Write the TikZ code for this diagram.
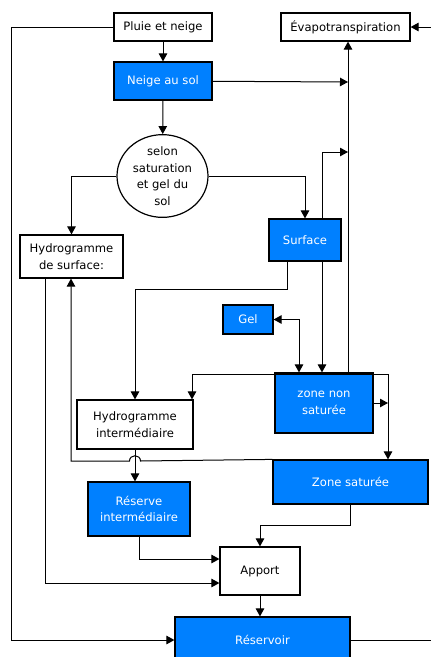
\documentclass[tikz,border=0pt]{standalone}
\usepackage{fontspec}
\setmainfont{DejaVu Sans}
\usetikzlibrary{shapes,arrows.meta}
\definecolor{eaubleu}{RGB}{0,128,255}

\begin{document}
\begin{tikzpicture}[x=1pt,y=-1pt,>={Triangle[length=8pt,width=8.5pt]}]
\tikzstyle{every node}=[draw, line width=1.2pt, inner sep=0pt, align=center, font=\fontsize{11.6}{16.5}\selectfont];
\tikzstyle{bleu}=[fill=eaubleu, text=white];
\tikzstyle{fleche}=[->, line width=1pt];

\useasboundingbox (0,0) rectangle (431,657);

  \node (pluie) at (163,27) [minimum width=98pt, minimum height=28pt] {Pluie et neige};
  \node (evap) at (345.5,27) [minimum width=129pt, minimum height=28pt] {Évapotranspiration};
  \node (neige) at (163,81) [bleu, minimum width=98pt, minimum height=38pt] {Neige au sol};
  \node (selon) at (162.5,176) [ellipse, minimum width=91pt, minimum height=76pt] {selon\\saturation\\et gel du\\sol};
  \node (hsurf) at (71.5,256.5) [minimum width=103pt, minimum height=43pt] {Hydrogramme\\de surface:};
  \node (surface) at (305,240) [bleu, minimum width=72pt, minimum height=42pt] {Surface};
  \node (gel) at (248,319.5) [bleu, minimum width=50pt, minimum height=29pt] {Gel};
  \node (zns) at (324,403) [bleu, minimum width=98pt, minimum height=60pt] {zone non\\saturée};
  \node (hinter) at (135,424.5) [minimum width=116pt, minimum height=49pt] {Hydrogramme\\intermédiaire};
  \node (zsat) at (350.5,482) [bleu, minimum width=155pt, minimum height=44pt] {Zone saturée};
  \node (rinter) at (139,509) [bleu, minimum width=102pt, minimum height=54pt] {Réserve\\intermédiaire};
  \node (apport) at (260,571) [minimum width=80pt, minimum height=48pt] {Apport};
  \node (reservoir) at (262.5,640) [bleu, minimum width=175pt, minimum height=46pt] {Réservoir};

  \coordinate (jevap) at (348,82);
  \coordinate (jsurf) at (322,152);
  \coordinate (jinter) at (287,289);
  \coordinate (jgel) at (299,319.5);
  \coordinate (jdroite) at (388,403);
  \coordinate (jhaut) at (388,374);
  \coordinate (jgauche) at (192,374);
  \coordinate (jsat) at (71,461);
  \coordinate (japp1) at (350.5,525);
  \coordinate (japp2) at (139,559);
  \coordinate (japp3) at (45,583);
  \coordinate (jpluie) at (11,27);
  \coordinate (entree) at (431,27);
  \coordinate (sortie) at (431,640);

  \foreach \from/\to in {pluie/neige, neige/selon}
\draw [fleche] (\from) -- (\to);

  \draw [fleche] (neige) -- (jevap);
  \draw [fleche] (zns.north -| jevap) -- (evap.south -| jevap);
  \draw [fleche] (entree) -- (evap.east);
  \draw [fleche] (surface.north -| jsurf) -- (jsurf) -- (jsurf -| jevap);
  \draw [fleche] (selon.east) -| (surface.north);
  \draw [fleche] (selon.west) -| (hsurf.north);
  \draw [fleche] (surface.south -| jinter) -- (jinter) -| (hinter.north);
  \draw [fleche] (surface.south -| jsurf) -- (zns.north -| jsurf);
  \draw [<->, line width=1pt] (gel.east) -- (jgel) -- (zns.north -| jgel);
  \draw [fleche] (zns.east) -- (jdroite);
  \draw [line width=1pt] (jgauche) -- (jhaut);
  \draw [fleche] (jhaut) -- (zsat.north -| jhaut);
  \draw [fleche] (jgauche) -- (hinter.north -| jgauche);
  \draw [fleche] (hinter.south) -- (rinter.north -| hinter.south);
  \draw [fleche] (zsat.north west) -- (140.5,461) .. controls (140.5,454) and (129.5,454) .. (129.5,461) -- (jsat) -- (hsurf.south -| jsat);
  \draw [fleche] (zsat.south) -- (japp1) -| (apport.north);
  \draw [fleche] (rinter.south) -- (japp2) -- (japp2 -| apport.west);
  \draw [fleche] (hsurf.south -| japp3) -- (japp3) -- (japp3 -| apport.west);
  \draw [fleche] (apport.south) -- (reservoir.north -| apport.south);
  \draw [line width=1pt] (reservoir.east) -- (sortie);
  \draw [fleche] (pluie.west) -- (jpluie) |- (reservoir.west);

\end{tikzpicture}
\end{document}
